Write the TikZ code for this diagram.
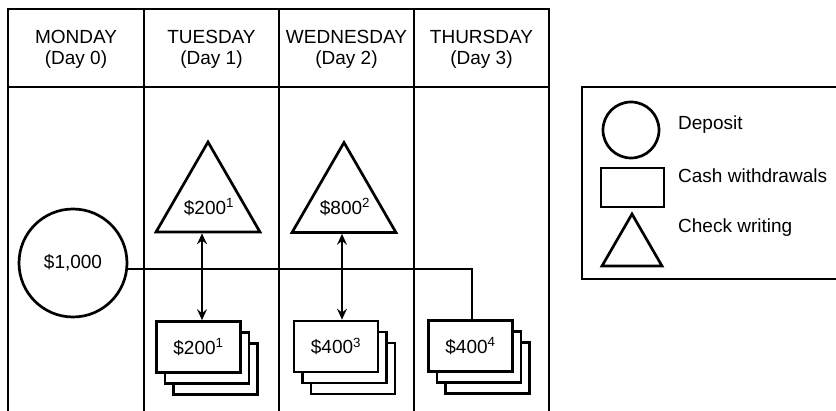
\documentclass[tikz,border=0pt]{standalone}
\usepackage{fontspec}
\setmainfont{Liberation Sans}
\usetikzlibrary{shapes.geometric,arrows.meta,shadows}
\begin{document}
\begin{tikzpicture}[x=1pt,y=-1pt,
  grid/.style={line width=1.8pt},
  shp/.style={draw, line width=2.7pt, fill=white, inner sep=0pt},
  lbl/.style={font=\fontsize{19}{21}\selectfont, inner sep=0pt},
  head/.style={lbl, align=center},
  tri/.style={shp, regular polygon, regular polygon sides=3, minimum size=#1},
  tri/.default=120pt,
  card/.style={shp, font=\fontsize{19}{21}\selectfont, minimum width=84pt, minimum height=51pt,
    double copy shadow={shadow xshift=8.5pt, shadow yshift=-11pt, draw=black, fill=white, line width=2.7pt}},
  link/.style={line width=1.3pt},
  dbl/.style={line width=1.6pt, {Stealth[length=11pt,width=10pt,inset=4pt]}-{Stealth[length=11pt,width=10pt,inset=4pt]}}
]
\useasboundingbox (0,0) rectangle (836,411);
\clip (0,0) rectangle (836,411);
\fill[white] (0,0) rectangle (836,411);

% table
\draw[grid] (8,9) rectangle (549,87);
\foreach \x in {8,144,279,414,549} \draw[grid] (\x,9) -- (\x,425);

\node[head] (h0) at (76,49) {MONDAY\\(Day 0)};
\node[head] (h1) at (211.5,49) {TUESDAY\\(Day 1)};
\node[head] (h2) at (346.5,49) {WEDNESDAY\\(Day 2)};
\node[head] (h3) at (481.5,49) {THURSDAY\\(Day 3)};

% deposit
\node[shp, circle, minimum size=108pt, font=\fontsize{19}{21}\selectfont] (dep) at (73,263) {\$1,000};

% checks
\node[tri] (t1) at (208,202) {};
\node[lbl] (t1txt) at (209,207) {\$200\textsuperscript{1}};
\node[tri] (t2) at (344,202.5) {};
\node[lbl] (t2txt) at (345,207) {\$800\textsuperscript{2}};

% cash withdrawals
\node[card] (c1) at (198.5,347) {\$200\textsuperscript{1}};
\node[card] (c2) at (336,346.5) {\$400\textsuperscript{3}};
\node[card] (c3) at (470.5,346) {\$400\textsuperscript{4}};

% connectors
\draw[link] ([yshift=-6pt]dep.east) -| ([xshift=1.5pt]c3.north);
\draw[dbl] ([xshift=-6pt]t1.side 2) -- ([xshift=-6pt]t1.side 2 |- c1.north);
\draw[dbl] ([xshift=-2pt]t2.side 2) -- ([xshift=-2pt]t2.side 2 |- c2.north);

% legend
\draw[line width=2.8pt] (582,87) rectangle (860,279);
\node[shp, circle, minimum size=56pt] (lc) at (631,130) {};
\node[shp, minimum width=63pt, minimum height=39pt] (lr) at (632.5,187.5) {};
\node[tri=69.3pt] (lt) at (632,248.7) {};
\node[lbl, anchor=west] (ld) at (678,125) {Deposit};
\node[lbl, anchor=west] (lw) at (678,176) {Cash withdrawals};
\node[lbl, anchor=west] (lk) at (678,228) {Check writing};
\end{tikzpicture}
\end{document}
